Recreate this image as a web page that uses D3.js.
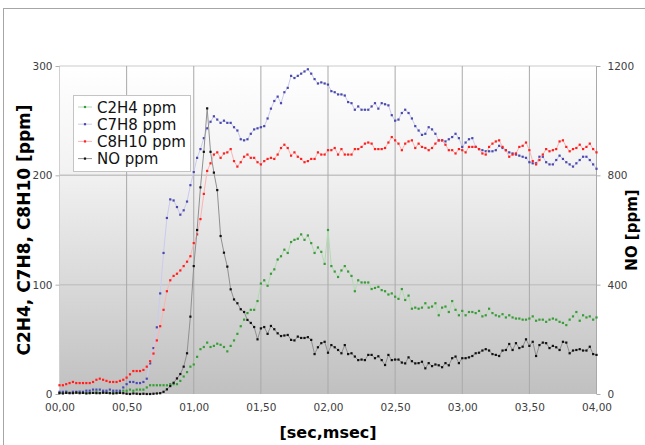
<!DOCTYPE html>
<html>
<head>
<meta charset="utf-8">
<script src="https://cdn.jsdelivr.net/npm/d3@7"></script>
<style>
  body { margin: 0; background: #fff; }
  svg { display: block; font-family: "DejaVu Sans", Verdana, sans-serif; }
</style>
</head>
<body>
<div id="chart"></div>
<script>
// samples every 25 ms, from 0 to 4 s
const timeStep = 0.025;

const c2h4 = [1,1,2,1,1,1,2,1,1,1, 1,2,1,1,1,1,2,1,2,3, 3,4,3,4,4,4,6,8,8,8,
  8,8,8,9,9,9,12,16,20,25, 27,34,41,43,47,43,44,46,45,43, 39,44,49,55,62,68,74,77,77,85,
  101,104,99,110,114,123,126,132,129,139, 141,142,146,141,145,138,129,134,130,119,
  150,117,112,107,113,117,112,108,94,104, 102,102,102,96,97,98,95,94,91,92, 89,87,96,86,90,78,
  79,78,79,83,79,80,83,72,79,80, 75,85,77,72,76,72,75,75,74,76, 71,72,78,74,72,71,73,70,72,70,
  69,69,68,68,69,71,67,68,68,66, 68,69,68,66,65,63,68,71,75,67, 72,70,71,68,70];

const c7h8 = [2,2,2,1,2,2,2,2,3,3, 4,4,4,3,3,4,3,3,3,6, 9,11,11,10,10,11,14,28,42,61,
  92,129,161,178,177,171,164,168,176,191, 203,216,224,234,243,249,254,251,248,250,
  248,248,244,241,233,232,233,238,242,243, 244,245,252,261,268,272,266,276,280,291,
  289,291,293,295,297,293,288,284,285,284, 283,277,276,274,274,273,267,266,260,263,
  260,260,260,263,266,261,266,265,264,255, 250,251,257,260,257,252,245,241,237,238,
  244,242,238,232,232,231,233,235,238,234, 226,230,233,234,226,224,223,222,222,222,
  223,227,225,223,221,220,219,218,217,216, 212,211,211,217,217,212,210,210,214,218,
  215,212,210,208,211,214,217,217,214,210,206];

const c8h10 = [8,8,9,10,11,10,10,10,10,10, 11,13,14,13,12,11,11,11,12,13, 15,18,21,21,21,22,25,30,37,49,
  62,77,94,104,108,110,113,117,121,126, 138,146,160,183,204,211,219,221,216,220,
  221,224,213,208,212,217,219,216,216,212, 210,213,215,216,215,219,225,228,225,218,
  221,217,215,212,213,215,215,221,219,219, 223,223,225,219,224,219,219,219,224,224,
  226,229,230,229,224,224,224,225,230,235, 232,229,223,229,231,232,
  225,229,226,225,223,225,229,232,232,228, 223,223,220,224,223,221,226,226,226,224,
  220,219,226,229,231,232,226,223,217,219, 220,226,227,230,223,213,210,214,219,224,
  222,223,224,231,232,226,222,224,225,228, 224,226,229,224,221];

const no = [3,2,4,3,3,5,3,4,2,3, 4,3,3,5,4,3,2,3,4,3, 1,0,2,1,0,1,0,0,1,2,
  3,8,17,29,41,57,73,100,149,283, 468,600,756,886,1045,886,810,746,578,517,
  466,383,346,332,310,300,271,260,245,200, 240,245,220,249,237,222,212,214,216,198,
  196,210,205,205,208,198,146,171,186,191, 151,179,171,161,149,179,146,149,137,124,
  126,124,143,143,131,138,124,106,143,124, 126,126,115,112,134,120,
  112,113,118,94,113,102,108,105,98,113, 105,131,137,113,131,131,134,139,149,151,
  159,164,159,146,143,139,159,161,183,161, 186,168,173,200,176,191,139,179,188,186,
  168,176,171,161,191,188,149,159,161,164, 159,159,173,146,143];

const xTicks = [0, 0.5, 1, 1.5, 2, 2.5, 3, 3.5, 4];
const xTickLabels = ["00,00", "00,50", "01,00", "01,50", "02,00", "02,50", "03,00", "03,50", "04,00"];
const leftTicks = [0, 100, 200, 300];
const rightTicks = [0, 400, 800, 1200];
const seriesNames = ["C2H4 ppm", "C7H8 ppm", "C8H10 ppm", "NO ppm"];

const width = 645, height = 445;
const margin = {top: 66, right: 48.5, bottom: 51, left: 59.5};

const svg = d3.select("#chart").append("svg")
    .attr("width", width)
    .attr("height", height);

// outer frame of the chart
svg.append("rect")
    .attr("x", 3.5).attr("y", 8.5)
    .attr("width", 700).attr("height", 500)
    .attr("fill", "#fff")
    .attr("stroke", "#a6a6a6");

let x = d3.scaleLinear().domain([0, 4]).range([margin.left, width - margin.right]);
let yLeft = d3.scaleLinear().domain([0, 300]).range([height - margin.bottom, margin.top]);
let yRight = d3.scaleLinear().domain([0, 1200]).range([height - margin.bottom, margin.top]);

// plot background gradient
let grad = svg.append("defs").append("linearGradient")
    .attr("id", "bg")
    .attr("x1", 0).attr("y1", 0).attr("x2", 0).attr("y2", 1);
grad.append("stop").attr("offset", "0%").attr("stop-color", "#ffffff");
grad.append("stop").attr("offset", "30%").attr("stop-color", "#f3f3f3");
grad.append("stop").attr("offset", "65%").attr("stop-color", "#dadada");
grad.append("stop").attr("offset", "100%").attr("stop-color", "#c0c0c0");

svg.append("rect")
    .attr("x", x(0)).attr("y", yLeft(300))
    .attr("width", x(4) - x(0))
    .attr("height", yLeft(0) - yLeft(300))
    .attr("fill", "url(#bg)");

// horizontal gridlines
svg.append("g").selectAll("line")
    .data(leftTicks.slice(1))
    .enter().append("line")
    .attr("x1", x(0)).attr("x2", x(4))
    .attr("y1", d => yLeft(d)).attr("y2", d => yLeft(d))
    .attr("stroke", d => d == 300 ? "#dcdcdc" : "#c4c4c4")
    .attr("stroke-width", 1.5);

// vertical gridlines
svg.append("g").selectAll("line")
    .data(xTicks)
    .enter().append("line")
    .attr("x1", d => x(d)).attr("x2", d => x(d))
    .attr("y1", yLeft(300)).attr("y2", yLeft(0))
    .attr("stroke", d => d == 0 ? "#d0d0d0" : "#a9a9a9")
    .attr("stroke-width", 1);

// left axis
let leftAxis = svg.append("g")
    .attr("transform", `translate(${x(0)},0)`)
    .call(d3.axisLeft(yLeft).tickValues(leftTicks).tickSize(4).tickPadding(3));
leftAxis.select(".domain").remove();

// right axis
let rightAxis = svg.append("g")
    .attr("transform", `translate(${x(4)},0)`)
    .call(d3.axisRight(yRight).tickValues(rightTicks).tickSize(4).tickPadding(7)
        .tickFormat(d3.format("d")));
rightAxis.select(".domain").remove();

// bottom axis
let bottomAxis = svg.append("g")
    .attr("transform", `translate(0,${yLeft(0)})`)
    .call(d3.axisBottom(x).tickValues(xTicks).tickSize(0).tickPadding(10)
        .tickFormat((d, i) => xTickLabels[i]));
bottomAxis.select(".domain").remove();

svg.selectAll(".tick line").attr("stroke", "#b0b0b0");
svg.selectAll(".tick text")
    .attr("fill", "#404040")
    .style("font-size", "10.5px")
    .style("font-family", "'DejaVu Sans', Verdana, sans-serif");

// series
const series = [
    {name: seriesNames[0], values: c2h4, y: yLeft, dot: "#3c9a3c", line: "#b2dbb2"},
    {name: seriesNames[1], values: c7h8, y: yLeft, dot: "#4a4aae", line: "#cbcbef"},
    {name: seriesNames[2], values: c8h10, y: yLeft, dot: "#ff1f1f", line: "#fcb4b4"},
    {name: seriesNames[3], values: no, y: yRight, dot: "#111111", line: "#909090"}
];

series.forEach(function(s) {
    let line = d3.line()
        .x((d, i) => x(i * timeStep))
        .y(d => s.y(d));

    svg.append("path")
        .datum(s.values)
        .attr("fill", "none")
        .attr("stroke", s.line)
        .attr("stroke-width", 1)
        .attr("d", line);

    svg.append("g").selectAll("rect")
        .data(s.values)
        .enter().append("rect")
        .attr("x", (d, i) => x(i * timeStep) - 1.1)
        .attr("y", d => s.y(d) - 1.1)
        .attr("width", 2.2)
        .attr("height", 2.2)
        .attr("fill", s.dot);
});

// legend
let legend = svg.append("g");
legend.append("rect")
    .attr("x", 73.5).attr("y", 95.5)
    .attr("width", 117).attr("height", 76)
    .attr("fill", "#fff")
    .attr("stroke", "#c4c4c4");

let items = legend.selectAll(".item")
    .data(series)
    .enter().append("g")
    .attr("class", "item")
    .attr("transform", (d, i) => `translate(0, ${107 + i * 17.2})`);

items.append("line")
    .attr("x1", 78).attr("x2", 92)
    .attr("y1", 0).attr("y2", 0)
    .attr("stroke", d => d.line);
items.append("rect")
    .attr("x", 83.9).attr("y", -1.1)
    .attr("width", 2.2).attr("height", 2.2)
    .attr("fill", d => d.dot);
items.append("text")
    .attr("x", 97).attr("y", 5.5)
    .style("font-size", "15px")
    .attr("fill", "#111")
    .text(d => d.name);

// axis titles
svg.append("text")
    .attr("transform", `translate(30, ${(yLeft(0) + yLeft(300)) / 2}) rotate(-90)`)
    .style("text-anchor", "middle")
    .style("font-size", "17px")
    .style("font-weight", "bold")
    .text("C2H4, C7H8, C8H10 [ppm]");

svg.append("text")
    .attr("transform", `translate(637, ${(yLeft(0) + yLeft(300)) / 2}) rotate(-90)`)
    .style("text-anchor", "middle")
    .style("font-size", "15px")
    .style("font-weight", "bold")
    .text("NO [ppm]");

svg.append("text")
    .attr("x", (x(0) + x(4)) / 2)
    .attr("y", 438)
    .style("text-anchor", "middle")
    .style("font-size", "16px")
    .style("font-weight", "bold")
    .text("[sec,msec]");
</script>
</body>
</html>
